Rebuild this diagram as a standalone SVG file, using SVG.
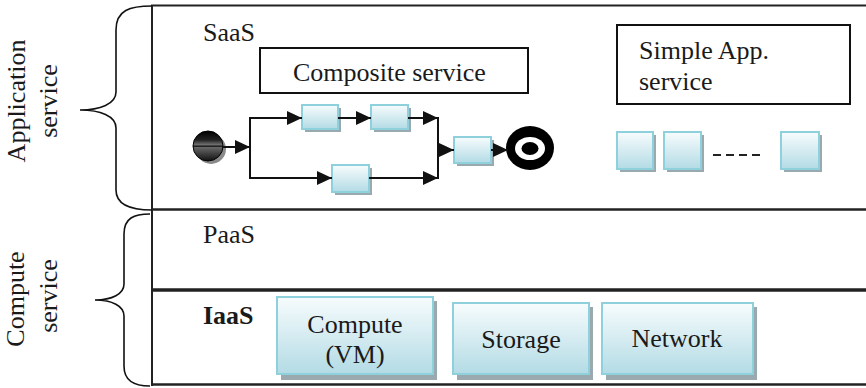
<svg xmlns="http://www.w3.org/2000/svg" width="866" height="388" viewBox="0 0 866 388">
<defs>
<linearGradient id="blue" x1="0" y1="0" x2="0" y2="1">
<stop offset="0" stop-color="#f7fcfd"/>
<stop offset="1" stop-color="#b3dbe5"/>
</linearGradient>
<linearGradient id="ball" x1="0" y1="0" x2="0" y2="1">
<stop offset="0" stop-color="#000"/>
<stop offset="0.3" stop-color="#222"/>
<stop offset="0.47" stop-color="#777"/>
<stop offset="0.5" stop-color="#000"/>
<stop offset="0.55" stop-color="#666"/>
<stop offset="1" stop-color="#111"/>
</linearGradient>
<marker id="arr" markerUnits="userSpaceOnUse" markerWidth="15" markerHeight="14" refX="15" refY="7" orient="auto">
<path d="M0,0 L15,7 L0,14 z" fill="#111"/>
</marker>
</defs>
<style>
.t{font-family:"Liberation Serif","Tinos","Times New Roman","Nimbus Roman","DejaVu Serif",serif;font-size:26px;fill:#1a1a1a}
.b{font-weight:bold}
.frame{stroke:#222;fill:none}
.brace{stroke:#111;stroke-width:1.6;fill:none}
.box{fill:url(#blue);stroke:#8fd0dd;stroke-width:2}
.sh{fill:#9aa9ad}
.wb{fill:#fff;stroke:#111;stroke-width:2}
.c{stroke:#111;stroke-width:2;fill:none}
.ca{stroke:#111;stroke-width:2;fill:none;marker-end:url(#arr)}
</style>

<g id="frame">
<line class="frame" x1="151" y1="5.5" x2="866" y2="5.5" stroke-width="2"/>
<line class="frame" x1="152" y1="5" x2="152" y2="386" stroke-width="2"/>
<line class="frame" x1="152" y1="209.5" x2="866" y2="209.5" stroke-width="2.5"/>
<line class="frame" x1="152" y1="290" x2="866" y2="290" stroke-width="3.5"/>
<line class="frame" x1="151" y1="384.5" x2="866" y2="384.5" stroke-width="2.5"/>
</g>

<g id="app-brace">
<path class="brace" d="M152,6 C130,6 116,10 116,30 L116,92 C116,104 100,110 80,110 C100,110 116,116 116,128 L116,190 C116,205 130,210 152,210"/>
<text class="t" text-anchor="middle" transform="translate(25,101) rotate(-90)">Application</text>
<text class="t" text-anchor="middle" transform="translate(57,101) rotate(-90)">service</text>
</g>

<g id="compute-brace">
<path class="brace" d="M150,214 C134,214 124,218 124,234 L124,284 C124,294 112,300 95,300 C112,300 124,306 124,316 L124,366 C124,381 134,386 150,386"/>
<text class="t" text-anchor="middle" transform="translate(24,299) rotate(-90)">Compute</text>
<text class="t" text-anchor="middle" transform="translate(57,296) rotate(-90)">service</text>
</g>

<g id="saas-label"><text class="t" x="203" y="41">SaaS</text></g>
<g id="paas-label"><text class="t" x="203" y="243">PaaS</text></g>
<g id="iaas-label"><text class="t b" x="203" y="324">IaaS</text></g>

<g id="composite-service">
<rect class="wb" x="260" y="48" width="268" height="45"/>
<text class="t" x="293" y="81">Composite service</text>
</g>

<g id="simple-app-service">
<rect class="wb" x="617" y="25" width="233" height="79"/>
<text class="t" x="639" y="59">Simple App.</text>
<text class="t" x="639" y="90">service</text>
</g>

<g id="start">
<circle cx="211" cy="149" r="15" fill="#8a8a8a"/>
<circle cx="208" cy="146" r="15" fill="url(#ball)" stroke="#000" stroke-width="1"/>
</g>

<g id="task1"><rect class="sh" x="305" y="108" width="36" height="24"/><rect class="box" x="302" y="105" width="36" height="24"/></g>
<g id="task2"><rect class="sh" x="374" y="108" width="37" height="24"/><rect class="box" x="371" y="105" width="37" height="24"/></g>
<g id="task3"><rect class="sh" x="335" y="168" width="37" height="27"/><rect class="box" x="332" y="165" width="37" height="27"/></g>
<g id="task4"><rect class="sh" x="457" y="140" width="37" height="26"/><rect class="box" x="454" y="137" width="37" height="26"/></g>

<g id="end">
<ellipse cx="530" cy="148" rx="24" ry="22" fill="#000"/>
<ellipse cx="530" cy="148.5" rx="15" ry="11.5" fill="#fff"/>
<ellipse cx="530" cy="148.5" rx="8.5" ry="6.5" fill="#000"/>
</g>

<g id="connectors">
<path class="ca" d="M223,147 L250,147"/>
<path class="c" d="M250,118 L250,178"/>
<path class="ca" d="M249,118 L302,118"/>
<path class="ca" d="M338,118 L371,118"/>
<path class="ca" d="M408,118 L438,118"/>
<path class="ca" d="M249,178 L332,178"/>
<path class="ca" d="M369,178 L438,178"/>
<path class="c" d="M438,117 L438,179"/>
<path class="ca" d="M438,150 L454,150"/>
<path class="ca" d="M491,150 L508,150"/>
</g>

<g id="simple-app1"><rect class="sh" x="620" y="135" width="36" height="37"/><rect class="box" x="617" y="132" width="36" height="37"/></g>
<g id="simple-app2"><rect class="sh" x="667" y="135" width="37" height="37"/><rect class="box" x="664" y="132" width="37" height="37"/></g>
<g id="simple-dots"><line x1="713" y1="155" x2="761" y2="155" stroke="#222" stroke-width="2" stroke-dasharray="8,5"/></g>
<g id="simple-app3"><rect class="sh" x="784" y="135" width="38" height="37"/><rect class="box" x="781" y="132" width="38" height="37"/></g>

<g id="compute-vm">
<rect class="sh" x="281" y="301" width="156" height="79"/>
<rect class="box" x="277" y="297" width="156" height="77"/>
<text class="t" x="355" y="333" text-anchor="middle">Compute</text>
<text class="t" x="355" y="363" text-anchor="middle">(VM)</text>
</g>
<g id="storage">
<rect class="sh" x="457" y="307" width="136" height="73"/>
<rect class="box" x="453" y="303" width="136" height="71"/>
<text class="t" x="521" y="348" text-anchor="middle">Storage</text>
</g>
<g id="network">
<rect class="sh" x="606" y="307" width="151" height="73"/>
<rect class="box" x="602" y="303" width="151" height="71"/>
<text class="t" x="677" y="347" text-anchor="middle">Network</text>
</g>
</svg>
